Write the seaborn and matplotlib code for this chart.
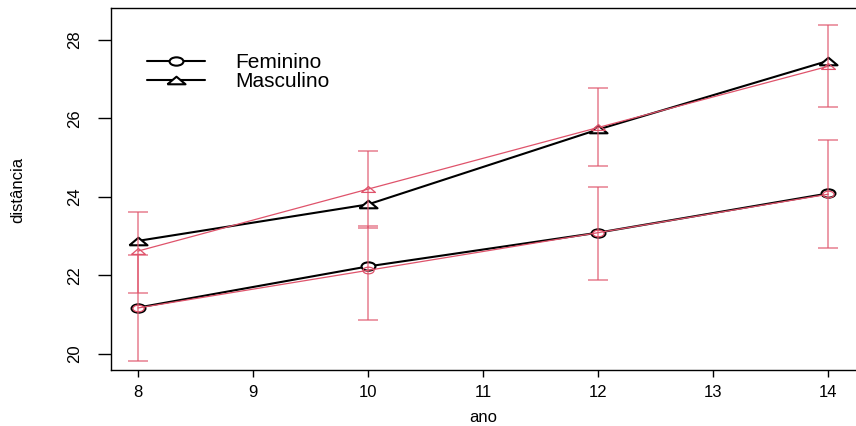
import matplotlib
matplotlib.use("Agg")
import matplotlib.pyplot as plt
from matplotlib.path import Path
from matplotlib.transforms import Affine2D
import numpy as np
import pandas as pd
import seaborn as sns

# observed means (black) and fitted values with intervals (red)
ano = [8, 10, 12, 14]
fem_obs = [21.18, 22.23, 23.09, 24.09]
mas_obs = [22.88, 23.81, 25.72, 27.47]
fem_fit = [21.17, 22.13, 23.09, 24.07]
mas_fit = [22.62, 24.20, 25.77, 27.33]
fem_low = [19.82, 20.87, 21.88, 22.71]
fem_high = [22.52, 23.26, 24.26, 25.44]
mas_low = [21.56, 23.22, 24.78, 26.28]
mas_high = [23.62, 25.18, 26.78, 28.39]

x_ticks = [8, 9, 10, 11, 12, 13, 14]
y_ticks = [20, 22, 24, 26, 28]

sns.set_theme(style="ticks", rc={"text.color": "black", "axes.labelcolor": "black",
                                 "xtick.color": "black", "ytick.color": "black"})
plt.rcParams["font.family"] = ["Liberation Sans", "DejaVu Sans"]

RED = "#DF536B"

# squashed markers like the reference
ellipse = Path.unit_circle().transformed(Affine2D().scale(1, 0.6))
tri = [(-1, -0.42), (1, -0.42), (0, 0.42), (-1, -0.42)]

fig = plt.figure(figsize=(8.56, 4.26), dpi=100)
ax = fig.add_axes([0.1297, 0.1315, 0.8703, 0.8497])

obs = pd.DataFrame({"ano": ano * 2, "dist": fem_obs + mas_obs,
                    "sexo": ["Feminino"] * 4 + ["Masculino"] * 4})

# black observed lines
for sexo, mk, ms in [("Feminino", ellipse, 10), ("Masculino", tri, 13)]:
    d = obs[obs["sexo"] == sexo]
    sns.lineplot(data=d, x="ano", y="dist", color="black", lw=1.5,
                 marker=mk, markersize=ms, markerfacecolor="white",
                 markeredgecolor="black", markeredgewidth=1.5,
                 label=sexo, ax=ax, zorder=3)

# red fitted lines and intervals
for fit, low, high, mk, ms in [(fem_fit, fem_low, fem_high, ellipse, 8),
                               (mas_fit, mas_low, mas_high, tri, 10)]:
    sns.lineplot(x=ano, y=fit, color=RED, lw=0.9, marker=mk, markersize=ms,
                 markerfacecolor="none", markeredgecolor=RED,
                 markeredgewidth=0.9, ax=ax, zorder=4, legend=False)
    fit = np.array(fit)
    yerr = [fit - np.array(low), np.array(high) - fit]
    ax.errorbar(ano, fit, yerr=yerr, fmt="none", ecolor=RED, elinewidth=1.1,
                capsize=7, capthick=1.1, alpha=0.75, zorder=4)

ax.set_xlim(7.766, 14.24)
ax.set_ylim(19.59, 28.815)
ax.set_xticks(x_ticks)
ax.set_yticks(y_ticks)
ax.tick_params(axis="x", labelsize=12, length=5, width=1, pad=6)
ax.tick_params(axis="y", labelsize=12, length=9.5, width=1, pad=11,
               labelrotation=90)
for t in ax.get_yticklabels():
    t.set_va("center")

for s in ["left", "bottom", "top"]:
    ax.spines[s].set_color("black")
    ax.spines[s].set_linewidth(1)
ax.spines["right"].set_visible(False)

ax.set_xlabel("ano", fontsize=12)
ax.set_ylabel("distância", fontsize=12, va="center")
ax.xaxis.set_label_coords(0.5, -0.11)
ax.yaxis.set_label_coords(-0.125, 0.497)

ax.legend(loc="upper left", bbox_to_anchor=(0.048, 0.875), frameon=False,
          fontsize=15, handlelength=2.8, handletextpad=1.45, labelspacing=0.0,
          borderpad=0, borderaxespad=0)

plt.savefig("out.png", dpi=100)
